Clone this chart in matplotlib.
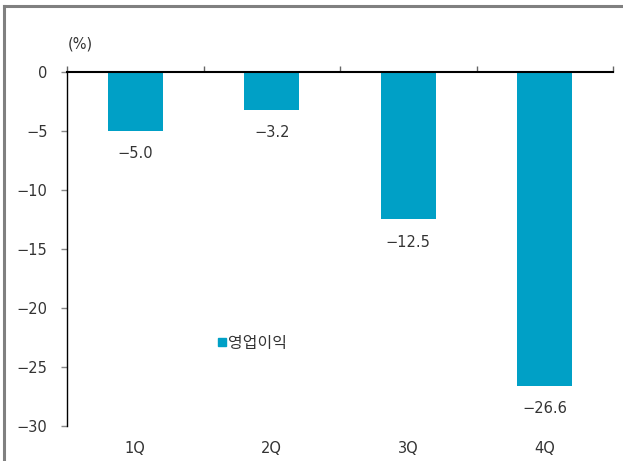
import matplotlib.pyplot as plt
from matplotlib.lines import Line2D

plt.rcParams['font.family'] = ['DejaVu Sans', 'Noto Sans CJK KR']

quarters = ['1Q', '2Q', '3Q', '4Q']
op_margin = [-5.0, -3.2, -12.5, -26.6]
series_name = '영업이익'

bar_color = '#00A0C6'
text_color = '#333333'

fig = plt.figure(figsize=(6.23, 4.61), dpi=100)
ax = fig.add_axes([67 / 623, 1 - 426 / 461, 546 / 623, 354 / 461])

x = range(len(quarters))
bars = ax.bar(x, op_margin, width=0.4, color=bar_color, label=series_name, zorder=2)

for xi, v in zip(x, op_margin):
    ax.annotate(f'{v:.1f}'.replace('-', '\u2212'), (xi, v), xytext=(0, -11),
                textcoords='offset points', ha='center', va='top',
                fontsize=10.5, color=text_color)

ax.set_xlim(-0.5, len(quarters) - 0.5)
ax.set_ylim(-30, 0)
ax.set_yticks(range(-30, 1, 5))
ax.set_yticklabels([str(t).replace('-', '\u2212') for t in range(-30, 1, 5)])

ax.set_xticks(list(x))
ax.set_xticklabels(quarters)
ax.set_xticks([i - 0.5 for i in range(len(quarters) + 1)], minor=True)
ax.tick_params(axis='x', which='major', length=0, pad=11, labelsize=10.5, labelcolor=text_color)
ax.tick_params(axis='x', which='minor', top=True, bottom=False, length=4, width=1, color='#666666', direction='out')
ax.tick_params(axis='y', length=4, width=1, color='#888888', direction='out', pad=10,
               labelsize=10.5, labelcolor=text_color)

ax.spines['bottom'].set_visible(False)
ax.spines['right'].set_visible(False)
ax.spines['top'].set_color('black')
ax.spines['top'].set_linewidth(1.5)
ax.spines['left'].set_color('black')
ax.spines['left'].set_linewidth(1.0)

ax.text(80 / 623, 1 - 44 / 461, '(%)', transform=fig.transFigure, ha='center', va='center',
        fontsize=10.5, color=text_color)

leg = ax.legend(handles=[Line2D([], [], marker='s', linestyle='none', color=bar_color, markersize=5.5)],
                labels=[series_name], loc='center left', bbox_to_anchor=(0.245, 0.234),
                frameon=False, handletextpad=0.0, handlelength=0.8,
                prop={'family': ['Noto Sans CJK KR', 'DejaVu Sans'], 'size': 11.5},
                labelcolor=text_color)

# gray frame around the picture (left and top edges visible)
fig.add_artist(Line2D([4 / 623, 4 / 623], [0, 1 - 6 / 461], transform=fig.transFigure,
                      color='#808080', linewidth=2.2))
fig.add_artist(Line2D([4 / 623, 1], [1 - 6 / 461, 1 - 6 / 461], transform=fig.transFigure,
                      color='#808080', linewidth=2.2))

fig.savefig('out.png', dpi=100)
